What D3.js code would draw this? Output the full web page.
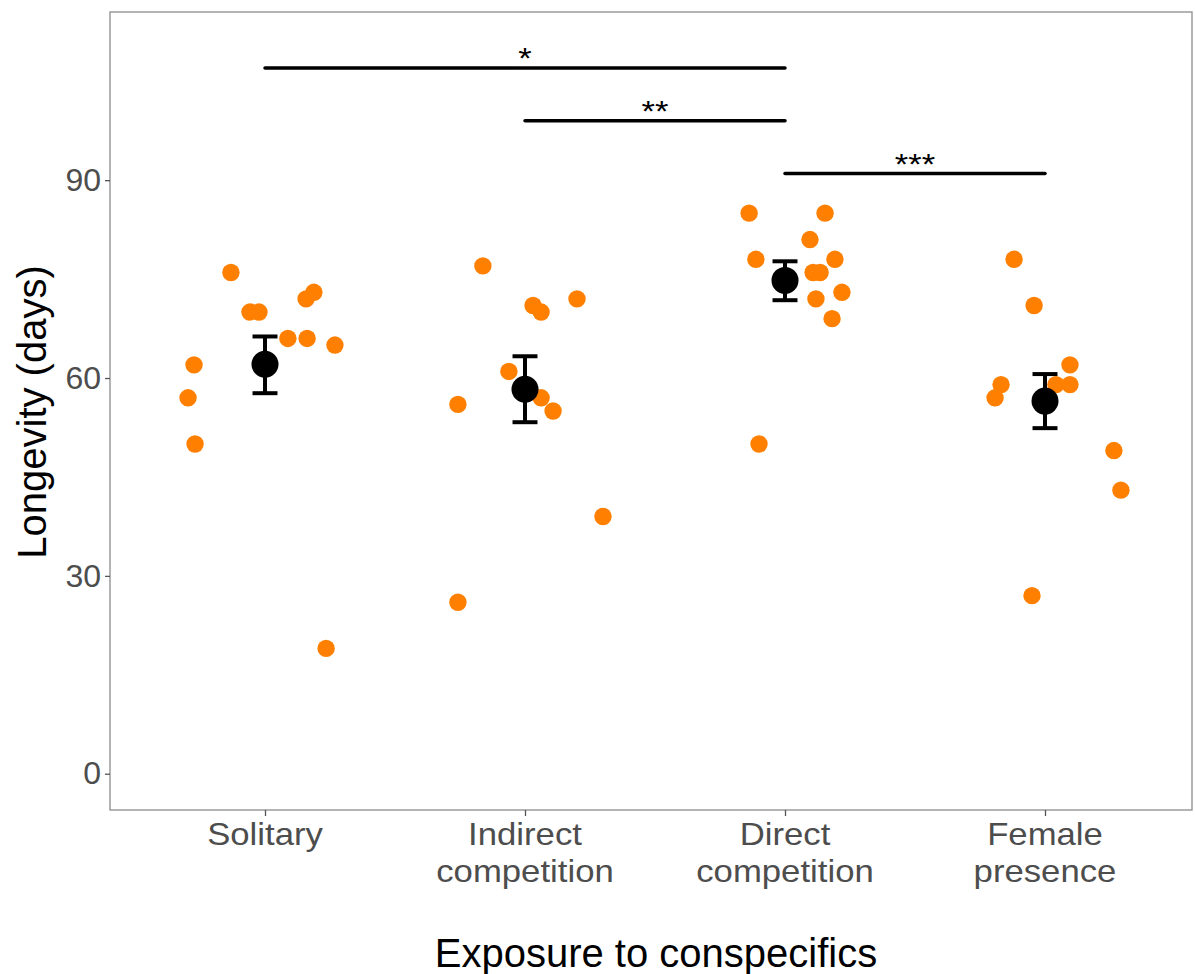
<!DOCTYPE html>
<html>
<head>
<meta charset="utf-8">
<script src="https://cdn.jsdelivr.net/npm/d3@7"></script>
<style>
  html, body { margin: 0; padding: 0; background: #ffffff; }
  svg { display: block; }
  text { font-family: "Liberation Sans", Arial, sans-serif; }
</style>
</head>
<body>
<svg id="chart" width="1195" height="974"></svg>
<script>
// ---------- data ----------
const categories = ["Solitary", "Indirect competition", "Direct competition", "Female presence"];
const categoryLines = [["Solitary"], ["Indirect", "competition"], ["Direct", "competition"], ["Female", "presence"]];

// individual longevities (days) and jitter offsets (in category units)
const solitaryValues = [76, 70, 70, 72, 73, 66, 66, 65, 62, 57, 50, 19];
const solitaryJitter = [-0.131, -0.058, -0.023, 0.158, 0.188, 0.088, 0.162, 0.269, -0.273, -0.296, -0.269, 0.235];

const indirectValues = [77, 71, 70, 72, 61, 57, 55, 56, 39, 26];
const indirectJitter = [-0.162, 0.031, 0.062, 0.2, -0.062, 0.062, 0.108, -0.258, 0.3, -0.258];

const directValues = [85, 85, 81, 78, 78, 76, 76, 72, 73, 69, 50];
const directJitter = [-0.138, 0.154, 0.096, -0.112, 0.192, 0.108, 0.135, 0.119, 0.219, 0.181, -0.1];

const femaleValues = [78, 71, 62, 59, 57, 59, 59, 49, 43, 27];
const femaleJitter = [-0.119, -0.042, 0.096, -0.169, -0.192, 0.042, 0.096, 0.265, 0.292, -0.05];

// group mean and error bar limits
const meanValues  = [62.1, 58.3, 74.8, 56.5];
const lowerValues = [57.7, 53.3, 71.8, 52.4];
const upperValues = [66.3, 63.3, 77.7, 60.6];

// significance brackets (category index from/to, height, label)
const sigFrom   = [1, 2, 3];
const sigTo     = [3, 3, 4];
const sigY      = [107, 99, 91];
const sigLabels = ["*", "**", "***"];

const yTicks = [0, 30, 60, 90];
const xTitle = "Exposure to conspecifics";
const yTitle = "Longevity (days)";

// ---------- layout ----------
const panel = { left: 110, right: 1192, top: 12, bottom: 810 };
const svg = d3.select("#chart");

const x = d3.scaleLinear().domain([0.4, 4.6]).range([109, 1201]);
const y = d3.scaleLinear().domain([-5.5, 115.5]).range([panel.bottom, panel.top]);

const groups = [
  { values: solitaryValues, jitter: solitaryJitter },
  { values: indirectValues, jitter: indirectJitter },
  { values: directValues,   jitter: directJitter },
  { values: femaleValues,   jitter: femaleJitter }
];
const points = [];
groups.forEach((g, i) => g.values.forEach((v, j) => points.push({ cat: i + 1, off: g.jitter[j], v })));

// clip
svg.append("defs").append("clipPath").attr("id", "clip")
  .append("rect").attr("x", panel.left).attr("y", panel.top)
  .attr("width", panel.right - panel.left).attr("height", panel.bottom - panel.top);

const plot = svg.append("g").attr("clip-path", "url(#clip)");

// points
plot.selectAll("circle.pt").data(points).enter().append("circle")
  .attr("class", "pt")
  .attr("cx", d => x(d.cat + d.off))
  .attr("cy", d => y(d.v))
  .attr("r", 8.7)
  .attr("fill", "#ff8000");

// error bars
const eb = categories.map((c, i) => ({ cat: i + 1, m: meanValues[i], lo: lowerValues[i], hi: upperValues[i] }));
const capHalf = 0.048;
const ebG = plot.append("g").attr("stroke", "#000").attr("stroke-width", 4).attr("fill", "none");
eb.forEach(d => {
  ebG.append("line").attr("x1", x(d.cat)).attr("x2", x(d.cat)).attr("y1", y(d.lo)).attr("y2", y(d.hi));
  ebG.append("line").attr("x1", x(d.cat - capHalf)).attr("x2", x(d.cat + capHalf)).attr("y1", y(d.lo)).attr("y2", y(d.lo));
  ebG.append("line").attr("x1", x(d.cat - capHalf)).attr("x2", x(d.cat + capHalf)).attr("y1", y(d.hi)).attr("y2", y(d.hi));
});
plot.selectAll("circle.mean").data(eb).enter().append("circle")
  .attr("class", "mean")
  .attr("cx", d => x(d.cat)).attr("cy", d => y(d.m)).attr("r", 13.5).attr("fill", "#000");

// significance lines
sigFrom.forEach((f, i) => {
  plot.append("line")
    .attr("x1", x(f)).attr("x2", x(sigTo[i]))
    .attr("y1", y(sigY[i])).attr("y2", y(sigY[i]))
    .attr("stroke", "#000").attr("stroke-width", 3.5).attr("stroke-linecap", "round");
  plot.append("text")
    .attr("transform", `translate(${x((f + sigTo[i]) / 2)},${y(sigY[i])}) scale(1.15,1)`)
    .attr("y", 0)
    .attr("text-anchor", "middle").attr("font-size", 30).attr("fill", "#000")
    .text(sigLabels[i]);
});

// panel border
svg.append("rect")
  .attr("x", panel.left).attr("y", panel.top)
  .attr("width", panel.right - panel.left).attr("height", panel.bottom - panel.top)
  .attr("fill", "none").attr("stroke", "#8c8c8c").attr("stroke-width", 1.3);

// y axis
const yAxis = d3.axisLeft(y).tickValues(yTicks).tickSize(5).tickPadding(4);
const yg = svg.append("g").attr("transform", `translate(${panel.left},0)`).call(yAxis);
yg.select(".domain").remove();
yg.selectAll(".tick line").attr("stroke", "#555").attr("stroke-width", 1.3);
yg.selectAll(".tick text").attr("font-size", 32).attr("fill", "#4d4d4d")
  .attr("font-family", "Liberation Sans, Arial, sans-serif");

// x axis
const xAxis = d3.axisBottom(x).tickValues([1, 2, 3, 4]).tickSize(6).tickFormat("");
const xg = svg.append("g").attr("transform", `translate(0,${panel.bottom})`).call(xAxis);
xg.select(".domain").remove();
xg.selectAll(".tick line").attr("stroke", "#555").attr("stroke-width", 1.3);

categoryLines.forEach((lines, i) => {
  const g = svg.append("g").attr("transform", `translate(${x(i + 1)},845) scale(1.12,1)`);
  const t = g.append("text")
    .attr("x", 0).attr("y", 0)
    .attr("text-anchor", "middle").attr("font-size", 31).attr("fill", "#4d4d4d");
  lines.forEach((l, k) => {
    t.append("tspan").attr("x", 0).attr("dy", k === 0 ? 0 : 37).text(l);
  });
});

// titles
svg.append("text")
  .attr("x", (panel.left + panel.right) / 2 + 5).attr("y", 967)
  .attr("text-anchor", "middle").attr("font-size", 40).attr("fill", "#000")
  .text(xTitle);

svg.append("text")
  .attr("transform", `translate(46,${(panel.top + panel.bottom) / 2 + 1}) rotate(-90)`)
  .attr("text-anchor", "middle").attr("font-size", 40).attr("fill", "#000")
  .text(yTitle);
</script>
</body>
</html>
